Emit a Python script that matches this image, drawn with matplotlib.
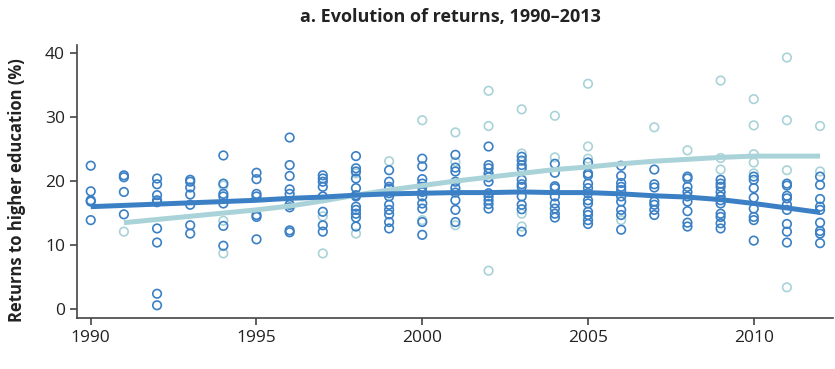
import numpy as np
import matplotlib.pyplot as plt

plt.rcParams['font.family'] = ['Open Sans', 'DejaVu Sans']

years = list(range(1990, 2013))

# returns by year, one list per year (dark = main sample, light = other sample)
dark_vals = [
    [22.4, 18.4, 17.0, 16.8, 13.9],                                  # 1990
    [20.9, 20.6, 18.3, 14.8],                                        # 1991
    [20.4, 19.5, 17.8, 17.0, 16.7, 12.6, 10.4, 2.4, 0.6],            # 1992
    [20.2, 19.9, 19.0, 17.9, 16.3, 13.1, 11.8],                      # 1993
    [24.0, 19.6, 18.0, 17.6, 16.5, 13.0, 9.9],                       # 1994
    [21.3, 20.3, 18.0, 17.6, 14.7, 14.4, 10.9],                      # 1995
    [26.8, 22.5, 20.8, 18.7, 18.0, 16.3, 15.9, 12.3, 12.0],          # 1996
    [20.9, 20.4, 19.9, 19.1, 17.6, 15.2, 13.1, 12.1],                # 1997
    [23.9, 22.0, 21.5, 20.4, 18.9, 17.8, 17.6, 16.0, 15.5, 14.9,
     14.3, 12.9],                                                    # 1998
    [21.7, 19.9, 19.1, 18.8, 18.1, 17.6, 16.3, 15.5, 14.8, 13.6,
     12.6],                                                          # 1999
    [23.5, 22.3, 20.3, 19.6, 19.1, 18.3, 17.6, 16.5, 15.7, 13.6,
     11.6],                                                          # 2000
    [24.1, 22.1, 21.5, 19.9, 18.9, 18.2, 17.0, 15.5, 13.6],          # 2001
    [25.4, 22.5, 22.0, 21.2, 20.6, 19.9, 18.1, 17.6, 17.0, 16.4,
     15.7],                                                          # 2002
    [23.8, 23.2, 22.5, 22.0, 20.2, 19.5, 19.1, 17.6, 16.3, 15.6,
     12.1],                                                          # 2003
    [22.7, 21.3, 19.2, 18.9, 17.6, 16.5, 15.7, 14.9, 14.3],          # 2004
    [22.9, 21.2, 20.9, 19.6, 18.9, 18.1, 17.0, 16.5, 15.2, 14.7,
     13.9, 13.3],                                                    # 2005
    [22.4, 20.8, 19.7, 19.1, 18.6, 17.6, 16.8, 15.5, 14.7, 12.4],    # 2006
    [21.8, 19.5, 19.0, 16.8, 16.3, 15.5, 14.7],                      # 2007
    [20.7, 20.4, 19.1, 18.3, 17.6, 16.8, 15.3, 13.5, 12.9],          # 2008
    [20.2, 19.6, 19.1, 18.3, 17.6, 17.0, 16.5, 14.9, 14.4, 13.4,
     12.6],                                                          # 2009
    [20.7, 20.2, 18.9, 17.4, 15.7, 14.4, 13.9, 10.7],                # 2010
    [19.6, 19.3, 17.7, 17.3, 16.3, 15.5, 13.3, 12.1, 10.4],          # 2011
    [20.7, 19.4, 17.2, 16.0, 15.5, 13.5, 12.2, 11.8, 10.3],          # 2012
]

light_vals = [
    [],                                  # 1990
    [12.1],                              # 1991
    [],                                  # 1992
    [],                                  # 1993
    [19.3, 13.8, 8.7],                   # 1994
    [],                                  # 1995
    [16.3],                              # 1996
    [14.5, 8.7],                         # 1997
    [21.2, 11.8],                        # 1998
    [23.1],                              # 1999
    [29.5, 13.9],                        # 2000
    [27.6, 23.0, 13.1],                  # 2001
    [34.1, 28.6, 6.0],                   # 2002
    [31.2, 24.3, 14.9, 12.9],            # 2003
    [30.2, 23.7],                        # 2004
    [35.2, 25.4, 23.5],                  # 2005
    [13.9],                              # 2006
    [28.4],                              # 2007
    [24.8],                              # 2008
    [35.7, 23.6, 21.8],                  # 2009
    [32.8, 28.7, 24.2, 22.9, 21.2],      # 2010
    [39.3, 29.5, 21.7, 3.4],             # 2011
    [28.6, 21.5],                        # 2012
]

# smoothed trend, one value per year
dark_trend = [16.0, 16.2, 16.4, 16.6, 16.8, 17.0, 17.3, 17.5, 17.8, 18.0,
              18.1, 18.2, 18.2, 18.3, 18.2, 18.2, 18.0, 17.7, 17.5, 17.1,
              16.5, 15.8, 15.1]
light_years = years[1:]
light_trend = [13.5, 14.0, 14.5, 15.0, 15.5, 16.1, 16.9, 17.8, 18.6, 19.3,
               20.0, 20.6, 21.2, 21.8, 22.2, 22.7, 23.1, 23.4, 23.7, 23.9,
               23.9, 23.9]

dark_color = '#3b80c5'
light_color = '#a9d3d8'

def flatten(vals):
    xs, ys = [], []
    for yr, v in zip(years, vals):
        xs += [yr] * len(v)
        ys += v
    return xs, ys

fig = plt.figure(figsize=(8.35, 3.69), dpi=100)
ax = fig.add_axes([0.092, 0.138, 0.906, 0.74])

lx, ly = flatten(light_vals)
dx, dy = flatten(dark_vals)
ax.scatter(lx, ly, s=38, facecolors='none', edgecolors=light_color,
           linewidths=1.2, zorder=2)
ax.scatter(dx, dy, s=38, facecolors='none', edgecolors=dark_color,
           linewidths=1.2, zorder=3)
ax.plot(light_years, light_trend, color=light_color, lw=3.6,
        solid_capstyle='butt', zorder=4)
ax.plot(years, dark_trend, color=dark_color, lw=3.6,
        solid_capstyle='butt', zorder=5)

ax.set_xlim(1989.58, 2012.4)
ax.set_ylim(-1.4, 41.25)
ax.set_xticks([1990, 1995, 2000, 2005, 2010])
ax.set_yticks([0, 10, 20, 30, 40])

for side in ['top', 'right']:
    ax.spines[side].set_visible(False)
for side in ['left', 'bottom']:
    ax.spines[side].set_color('#444444')
    ax.spines[side].set_linewidth(1.2)
ax.tick_params(axis='both', length=5, width=1.2, color='#444444',
               labelsize=12.5, labelcolor='#222222')

ax.set_ylabel('Returns to higher education (%)', fontsize=12,
              fontweight='bold', color='#222222')
ax.yaxis.set_label_coords(-0.067, 0.47)
fig.text(0.54, 0.953, 'a. Evolution of returns, 1990–2013', ha='center',
         va='center', fontsize=13, fontweight='bold', color='#222222')

fig.savefig('out.png', dpi=100)
